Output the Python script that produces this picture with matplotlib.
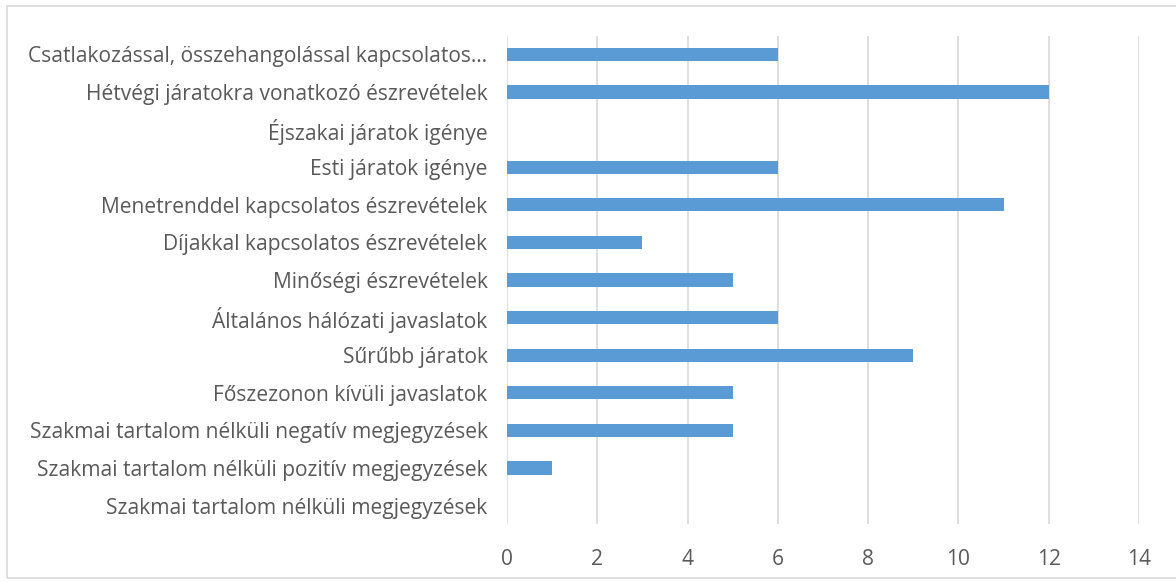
import matplotlib.pyplot as plt
import matplotlib.patches as mpatches

categories = [
    'Csatlakozással, összehangolással kapcsolatos…',
    'Hétvégi járatokra vonatkozó észrevételek',
    'Éjszakai járatok igénye',
    'Esti járatok igénye',
    'Menetrenddel kapcsolatos észrevételek',
    'Díjakkal kapcsolatos észrevételek',
    'Minőségi észrevételek',
    'Általános hálózati javaslatok',
    'Sűrűbb járatok',
    'Főszezonon kívüli javaslatok',
    'Szakmai tartalom nélküli negatív megjegyzések',
    'Szakmai tartalom nélküli pozitív megjegyzések',
    'Szakmai tartalom nélküli megjegyzések',
]
values = [6, 12, 0, 6, 11, 3, 5, 6, 9, 5, 5, 1, 0]
xticks = [0, 2, 4, 6, 8, 10, 12, 14]

plt.rcParams['font.family'] = ['Open Sans', 'DejaVu Sans']

fig = plt.figure(figsize=(11.76, 5.82), dpi=100)
ax = fig.add_axes([0.4311, 0.0988, 0.5374, 0.8402])

pos = list(range(len(categories)))
ax.barh(pos, values, height=0.35, color='#5B9BD5', zorder=3)
ax.set_ylim(len(categories) - 0.5, -0.5)
ax.set_xlim(0, 14)
ax.set_xticks(xticks)
ax.set_yticks(pos)
ax.set_yticklabels(categories)
ax.grid(axis='x', color='#D9D9D9', linewidth=1.2, zorder=0)
for s in ax.spines.values():
    s.set_visible(False)
ax.tick_params(axis='both', length=0, labelsize=15.1, colors='#595959')
ax.tick_params(axis='y', pad=14)
ax.tick_params(axis='x', pad=18)

# outer chart border
fig.patches.append(mpatches.Rectangle((7 / 1176, 4 / 582), 1, 572 / 582,
                                      transform=fig.transFigure, fill=False,
                                      edgecolor='#D9D9D9', linewidth=1.2))

fig.savefig('out.png', dpi=100)
